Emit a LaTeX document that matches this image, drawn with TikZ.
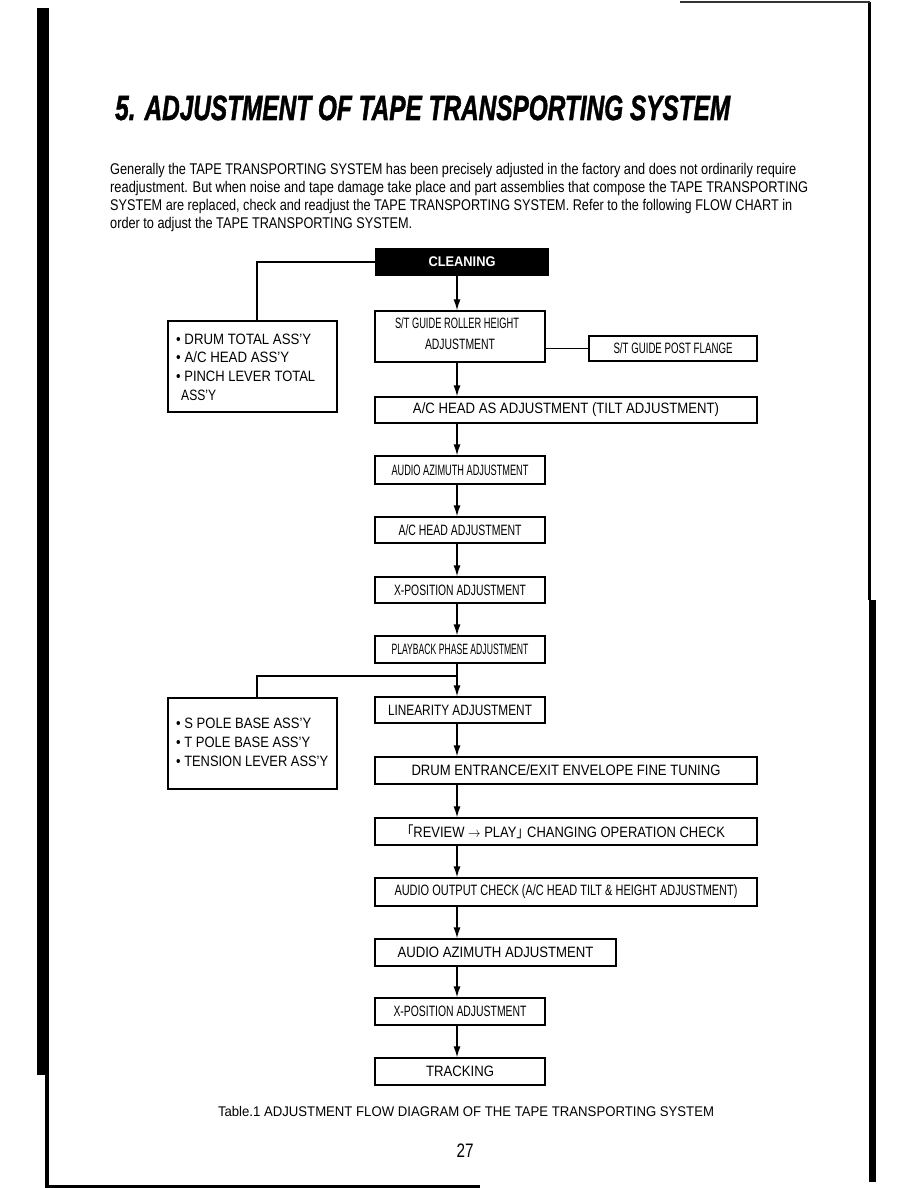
\documentclass[tikz,border=0pt]{standalone}
\usepackage{fontspec}
\setmainfont{Liberation Sans}
\newfontfamily\cjkf{Noto Sans CJK JP}
\newfontfamily\titlef{Liberation Sans}[FakeBold=1.6]
\usetikzlibrary{arrows.meta}
\newcommand\fitw[2]{\resizebox{#1}{\height}{#2}}
\tikzset{
  box/.style={draw, line width=1.1pt, inner sep=0pt, font=\fontsize{15}{18}\selectfont},
  txt/.style={inner sep=0pt, font=\fontsize{15}{18}\selectfont},
  para/.style={inner sep=0pt, anchor=base west, font=\fontsize{15.5}{18}\selectfont},
  conn/.style={line width=1.2pt},
  flow/.style={line width=1.5pt, -{Latex[length=11pt,width=7pt]}}
}
\begin{document}
\begin{tikzpicture}[x=1pt,y=-1pt]
\useasboundingbox (0,0) rectangle (918,1188);
\fill[white] (0,0) rectangle (918,1188);
% page border
\fill[black] (37,8) rectangle (49,1075);
\fill[black] (45,1075) rectangle (48.5,1187);
\fill[black] (45,1184.5) rectangle (480,1187.5);
\fill[black] (867.5,2) rectangle (870.5,600);
\fill[black] (869,600) rectangle (876,1182);
\fill[black!80] (680,1.5) rectangle (870,3.5);
% title
\node[inner sep=0pt, anchor=base west, font=\fontsize{35}{40}\selectfont\titlef\bfseries\itshape] (title) at (115,120)
  {\fitw{615pt}{5. ADJUSTMENT OF TAPE TRANSPORTING SYSTEM}};
% paragraph
\node[para] (p1) at (110,174) {\fitw{686pt}{Generally the TAPE TRANSPORTING SYSTEM has been precisely adjusted in the factory and does not  ordinarily require}};
\node[para] (p2) at (110,192) {\fitw{698pt}{readjustment. But when noise and tape damage take place and part assemblies that compose the TAPE TRANSPORTING}};
\node[para] (p3) at (110,210) {\fitw{682pt}{SYSTEM are replaced, check and readjust the TAPE TRANSPORTING SYSTEM. Refer to the following FLOW CHART in}};
\node[para] (p4) at (110,228) {\fitw{302pt}{order to adjust the TAPE TRANSPORTING SYSTEM.}};
% column coordinates
\coordinate (col) at (457,0);
\coordinate (lx) at (257,0);
% boxes
\node[box, fill=black, text=white, minimum width=172pt, minimum height=26pt, font=\fontsize{14}{16}\selectfont\bfseries] (clean) at (462,262) {\fitw{67pt}{CLEANING}};
\node[box, minimum width=170pt, minimum height=51pt] (stg) at (460,336.5) {};
\node[txt, anchor=base] (stg1) at (457,328.5) {\fitw{124pt}{S/T GUIDE ROLLER HEIGHT}};
\node[txt, anchor=base] (stg2) at (460,349.5) {\fitw{70pt}{ADJUSTMENT}};
\node[box, minimum width=168pt, minimum height=25pt] (flange) at (673,348.5) {\fitw{119pt}{S/T GUIDE POST FLANGE}};
\node[box, minimum width=169pt, minimum height=91pt] (drum) at (252.5,366.5) {};
\node[txt, anchor=base west] (d1) at (176,344.5) {\fitw{135pt}{• DRUM TOTAL ASS'Y}};
\node[txt, anchor=base west] (d2) at (176,362.5) {\fitw{113pt}{• A/C HEAD ASS'Y}};
\node[txt, anchor=base west] (d3) at (176,381.5) {\fitw{139pt}{• PINCH LEVER TOTAL}};
\node[txt, anchor=base west] (d4) at (181,400.5) {\fitw{35pt}{ASS'Y}};
\node[box, minimum width=382pt, minimum height=26pt] (achas) at (566,410) {\fitw{306pt}{A/C HEAD AS ADJUSTMENT (TILT ADJUSTMENT)}};
\node[box, minimum width=170pt, minimum height=28pt] (aaz1) at (460,470) {\fitw{137pt}{AUDIO AZIMUTH ADJUSTMENT}};
\node[box, minimum width=170pt, minimum height=26pt] (ach) at (460,530) {\fitw{123pt}{A/C HEAD ADJUSTMENT}};
\node[box, minimum width=170pt, minimum height=26pt] (xp1) at (460,590) {\fitw{132pt}{X-POSITION ADJUSTMENT}};
\node[box, minimum width=170pt, minimum height=27pt] (pb) at (460,649.5) {\fitw{137pt}{PLAYBACK PHASE ADJUSTMENT}};
\node[box, minimum width=170pt, minimum height=26pt] (lin) at (460,710) {\fitw{144pt}{LINEARITY ADJUSTMENT}};
\node[box, minimum width=169pt, minimum height=91pt] (spole) at (252.5,743.5) {};
\node[txt, anchor=base west] (s1) at (176,728.5) {\fitw{135pt}{• S POLE BASE ASS'Y}};
\node[txt, anchor=base west] (s2) at (176,747.5) {\fitw{134pt}{• T POLE BASE ASS'Y}};
\node[txt, anchor=base west] (s3) at (176,766.5) {\fitw{152pt}{• TENSION LEVER ASS'Y}};
\node[box, minimum width=382pt, minimum height=27pt] (env) at (566,770.5) {\fitw{309pt}{DRUM ENTRANCE/EXIT ENVELOPE FINE TUNING}};
\node[box, minimum width=382pt, minimum height=27pt] (rev) at (566,831.5) {\fitw{318pt}{\kern-0.5em{\cjkf 「}REVIEW $\rightarrow$ PLAY{\cjkf 」}\kern-0.45em\ CHANGING OPERATION CHECK}};
\node[box, minimum width=382pt, minimum height=28pt] (aout) at (566,892) {\fitw{343pt}{AUDIO OUTPUT CHECK (A/C HEAD TILT \& HEIGHT ADJUSTMENT)}};
\node[box, minimum width=241pt, minimum height=27pt] (aaz2) at (495.5,952.5) {\fitw{196pt}{AUDIO AZIMUTH ADJUSTMENT}};
\node[box, minimum width=170pt, minimum height=27pt] (xp2) at (460,1011.5) {\fitw{133pt}{X-POSITION ADJUSTMENT}};
\node[box, minimum width=170pt, minimum height=27pt] (trk) at (460,1071.5) {\fitw{68pt}{TRACKING}};
% caption and page number
\node[inner sep=0pt, anchor=base, font=\fontsize{14}{16}\selectfont] (cap) at (466,1116) {\fitw{496pt}{Table.1 ADJUSTMENT FLOW DIAGRAM OF THE TAPE TRANSPORTING SYSTEM}};
\node[inner sep=0pt, anchor=base, font=\fontsize{19.5}{22}\selectfont] (pg) at (465,1157) {\fitw{17pt}{27}};
% connectors
\draw[conn] (clean.west) -- (clean.west -| lx) -- (drum.north -| lx);
\draw[conn] (stg.east |- flange.west) -- (flange.west);
\coordinate (br) at (457,676);
\draw[conn] (br) -- (br -| lx) -- (spole.north -| lx);
\draw[flow] (clean.south -| col) -- (stg.north -| col);
\draw[flow] (stg.south -| col) -- (achas.north -| col);
\draw[flow] (achas.south -| col) -- (aaz1.north -| col);
\draw[flow] (aaz1.south -| col) -- (ach.north -| col);
\draw[flow] (ach.south -| col) -- (xp1.north -| col);
\draw[flow] (xp1.south -| col) -- (pb.north -| col);
\draw[flow] (pb.south -| col) -- (lin.north -| col);
\draw[flow] (lin.south -| col) -- (env.north -| col);
\draw[flow] (env.south -| col) -- (rev.north -| col);
\draw[flow] (rev.south -| col) -- (aout.north -| col);
\draw[flow] (aout.south -| col) -- (aaz2.north -| col);
\draw[flow] (aaz2.south -| col) -- (xp2.north -| col);
\draw[flow] (xp2.south -| col) -- (trk.north -| col);
\end{tikzpicture}
\end{document}
